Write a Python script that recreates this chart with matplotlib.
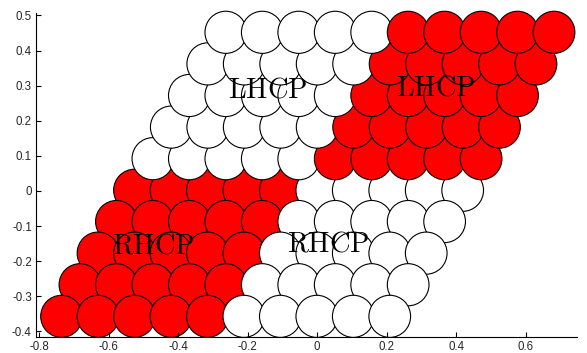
import matplotlib
matplotlib.use("Agg")
import matplotlib.pyplot as plt
from matplotlib.patches import Circle

plt.rcParams['axes.unicode_minus'] = False
plt.rcParams['mathtext.fontset'] = 'cm'

# lattice rows (bottom to top): y of the row and x of its first circle
row_y = [-0.357, -0.267, -0.177, -0.087, 0.002, 0.092, 0.182, 0.272, 0.362, 0.452]
row_x0 = [-0.736, -0.683, -0.631, -0.578, -0.526, -0.473, -0.420, -0.368, -0.315, -0.263]
pitch = 0.105
n_per_row = 10

# colour of each circle in a row: lower half red on the left, upper half red on the right
lower_colors = ['red'] * 5 + ['white'] * 5
upper_colors = ['white'] * 5 + ['red'] * 5

labels = ['LHCP', 'LHCP', 'RHCP', 'RHCP']
label_x = [-0.143, 0.342, -0.472, 0.032]
label_y = [0.290, 0.295, -0.156, -0.150]

fig = plt.figure(figsize=(5.87, 3.53), dpi=100)
ax = fig.add_axes([36 / 587, 16.3 / 353, 541.3 / 587, 323.7 / 353])

# drawing order: lower half from the middle down, then upper half from the middle up
order = [4, 3, 2, 1, 0, 5, 6, 7, 8, 9]
for r in order:
    colors = lower_colors if r < 5 else upper_colors
    for k in range(n_per_row):
        cx = row_x0[r] + k * pitch
        c = Circle((cx, row_y[r]), 0.06, facecolor=colors[k], edgecolor='black',
                   linewidth=0.8, clip_on=False)
        ax.add_patch(c)

for t, x, y in zip(labels, label_x, label_y):
    ax.text(x, y, r'$\mathrm{%s}$' % t, fontsize=20.5, ha='center', va='center')

ax.set_xlim(-0.8095, 0.749)
ax.set_ylim(-0.415, 0.507)
ax.set_xticks([-0.8, -0.6, -0.4, -0.2, 0, 0.2, 0.4, 0.6])
ax.set_xticklabels(['-0.8', '-0.6', '-0.4', '-0.2', '0', '0.2', '0.4', '0.6'])
ax.set_yticks([-0.4, -0.3, -0.2, -0.1, 0, 0.1, 0.2, 0.3, 0.4, 0.5])
ax.set_yticklabels(['-0.4', '-0.3', '-0.2', '-0.1', '0', '0.1', '0.2', '0.3', '0.4', '0.5'])
ax.spines['top'].set_visible(False)
ax.spines['right'].set_visible(False)
for s in ['left', 'bottom']:
    ax.spines[s].set_linewidth(0.8)
ax.tick_params(direction='in', length=3.5, width=0.8, labelsize=8.3, pad=3,
               labelcolor='#262626')
for lab in ax.get_xticklabels() + ax.get_yticklabels():
    lab.set_fontfamily('Liberation Sans')

fig.savefig('out.png', dpi=100)
